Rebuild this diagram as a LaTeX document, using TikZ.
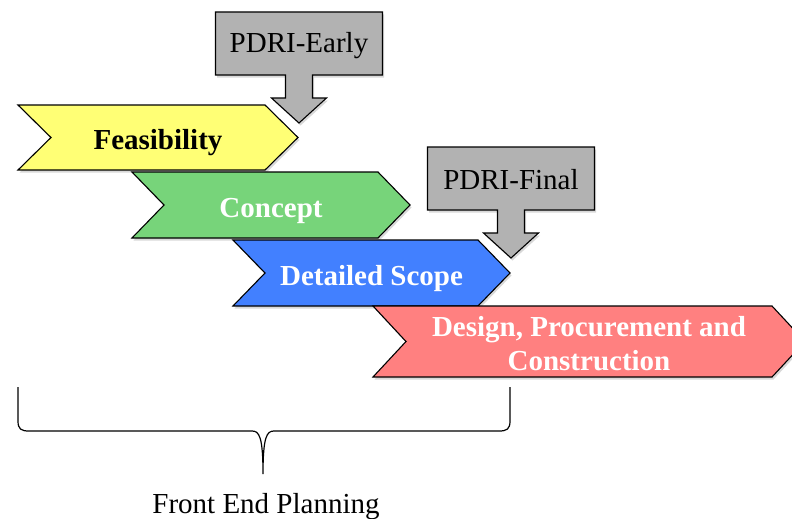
\documentclass[tikz,border=0pt]{standalone}
\usepackage{fontspec}
\setmainfont{Liberation Serif}
\usetikzlibrary{shadows}
\definecolor{cyellow}{RGB}{255,255,117}
\definecolor{cgreen}{RGB}{119,212,122}
\definecolor{cblue}{RGB}{66,128,255}
\definecolor{csalmon}{RGB}{255,128,128}
\definecolor{cgray}{RGB}{178,178,178}
\tikzset{
  shp/.style={draw=black, line width=1.1pt, line join=miter,
    drop shadow={opacity=0.3, shadow xshift=1.5pt, shadow yshift=-2.5pt}},
  lbl/.style={font=\fontsize{29}{34}\selectfont\bfseries, align=center, inner sep=0pt},
  ctext/.style={font=\fontsize{29}{34}\selectfont, inner sep=0pt},
}
% chevron: L, T, R, H, D, colour
\newcommand\mychevron[6]{%
  \path[shp, fill=#6] ({#1},{#2}) -- ({#3},{#2}) -- ({#3+#5},{#2+#4/2}) -- ({#3},{#2+#4})
    -- ({#1},{#2+#4}) -- ({#1+#5},{#2+#4/2}) -- cycle;}
% callout: centre x, top y
\newcommand\mycallout[2]{%
  \path[shp, fill=cgray] ({#1-83.5},{#2}) -- ({#1+83.5},{#2}) -- ({#1+83.5},{#2+63})
    -- ({#1+13.5},{#2+63}) -- ({#1+13.5},{#2+86}) -- ({#1+27.5},{#2+86}) -- ({#1},{#2+111})
    -- ({#1-27.5},{#2+86}) -- ({#1-13.5},{#2+86}) -- ({#1-13.5},{#2+63})
    -- ({#1-83.5},{#2+63}) -- cycle;}
\begin{document}
\begin{tikzpicture}[x=1pt,y=-1pt]
\clip (0,0) rectangle (792,519);
\fill[white] (0,0) rectangle (792,519);
% chevrons
\mychevron{18}{105}{265}{65}{33}{cyellow}
\node[lbl, text=black] (feas) at (158,143) {Feasibility};
\mychevron{132}{172}{378}{66}{32}{cgreen}
\node[lbl, text=white] (conc) at (271,211) {Concept};
\mychevron{233}{240}{478}{66}{32}{cblue}
\node[lbl, text=white] (det) at (371.5,279) {Detailed Scope};
\mychevron{373}{306}{772}{71}{33}{csalmon}
\node[lbl, text=white] (dpc) at (589,344) {Design, Procurement and\\Construction};
% callouts
\mycallout{299}{12}
\node[ctext] (early) at (299,46) {PDRI-Early};
\mycallout{511}{147}
\node[ctext] (final) at (511,180) {PDRI-Final};
% brace
\draw[line width=1.2pt] (18,387) -- (18,421) .. controls (18,429) and (21,431) .. (29,431)
  -- (252,431) .. controls (259,431) and (263,436) .. (263,474)
  .. controls (263,436) and (267,431) .. (274,431)
  -- (499,431) .. controls (507,431) and (510,429) .. (510,421) -- (510,387);
\node[ctext] (fep) at (266,507) {Front End Planning};
\end{tikzpicture}
\end{document}
